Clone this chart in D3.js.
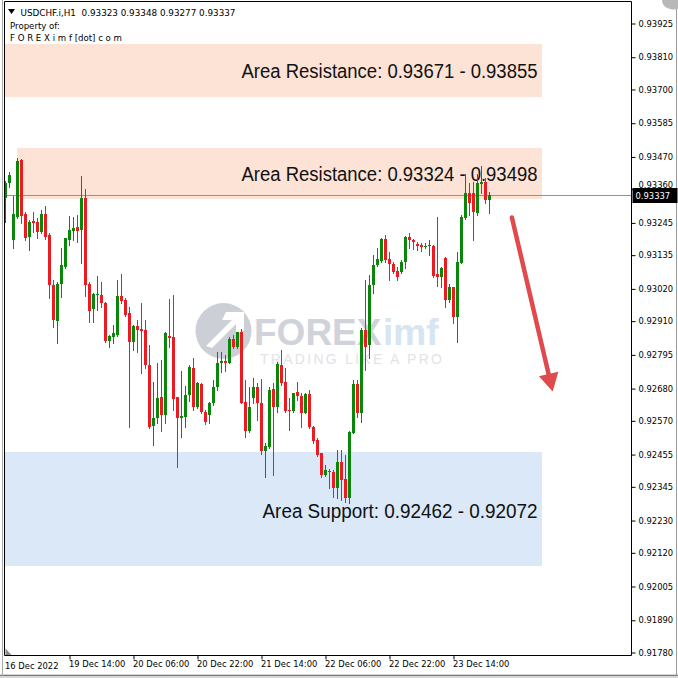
<!DOCTYPE html>
<html><head><meta charset="utf-8">
<script src="https://cdn.jsdelivr.net/npm/d3@7"></script>
<style>html,body{margin:0;padding:0;background:#fff;overflow:hidden}svg{display:block}</style>
</head><body>
<svg id="c" width="678" height="678"></svg>
<script>
// ---- DATA ----
const symbolHeader = "USDCHF.i,H1  0.93323 0.93348 0.93277 0.93337";
const propertyLines = ["Property of:", "F O R E X i m f [dot] c o m"];
const opens = [0.93328,0.93378,0.93185,0.93264,0.93458,0.93274,0.93196,0.93250,0.93247,0.93213,
0.93274,0.93202,0.93032,0.92910,0.93035,0.93094,0.93185,0.93217,0.93228,0.93219,
0.93327,0.93035,0.92949,0.92996,0.92997,0.92969,0.92842,0.92855,0.92861,0.92994,
0.92980,0.92935,0.92838,0.92892,0.92880,0.92878,0.92759,0.92551,0.92577,0.92651,
0.92588,0.92858,0.92855,0.92649,0.92577,0.92582,0.92656,0.92747,0.92614,0.92694,
0.92600,0.92588,0.92628,0.92685,0.92767,0.92772,0.92767,0.92846,0.92821,0.92872,
0.92634,0.92535,0.92645,0.92685,0.92630,0.92466,0.92480,0.92676,0.92617,0.92759,
0.92702,0.92605,0.92603,0.92668,0.92653,0.92596,0.92660,0.92548,0.92503,0.92458,
0.92384,0.92398,0.92395,0.92338,0.92429,0.92369,0.92304,0.92528,0.92694,0.92594,
0.92878,0.92827,0.93032,0.93100,0.93114,0.93187,0.93119,0.93103,0.93080,0.93077,
0.93111,0.93194,0.93185,0.93171,0.93168,0.93163,0.93165,0.93165,0.93069,0.93058,
0.93123,0.92980,0.93024,0.92921,0.93108,0.93260,0.93345,0.93345,0.93277,0.93376,
0.93383,0.93323];
const highs = [0.93386,0.93418,0.93335,0.93464,0.93460,0.93282,0.93253,0.93282,0.93259,0.93287,
0.93301,0.93208,0.93049,0.93043,0.93157,0.93193,0.93267,0.93262,0.93270,0.93403,
0.93358,0.93043,0.93005,0.93062,0.93043,0.92974,0.92861,0.92895,0.93049,0.93069,
0.92986,0.92958,0.92895,0.92912,0.92971,0.92912,0.92827,0.92702,0.92765,0.92776,
0.92872,0.92983,0.92997,0.92651,0.92739,0.92687,0.92759,0.92782,0.92701,0.92696,
0.92605,0.92632,0.92708,0.92804,0.92804,0.92793,0.92855,0.92861,0.92872,0.92880,
0.92708,0.92685,0.92713,0.92696,0.92710,0.92492,0.92685,0.92696,0.92770,0.92810,
0.92747,0.92645,0.92664,0.92702,0.92662,0.92662,0.92673,0.92551,0.92509,0.92460,
0.92418,0.92403,0.92401,0.92469,0.92469,0.92452,0.92535,0.92708,0.92708,0.92884,
0.93049,0.93066,0.93134,0.93157,0.93191,0.93202,0.93145,0.93111,0.93094,0.93117,
0.93199,0.93210,0.93187,0.93179,0.93174,0.93176,0.93185,0.93168,0.93262,0.93094,
0.93126,0.93035,0.93026,0.93145,0.93270,0.93410,0.93379,0.93383,0.93410,0.93437,
0.93396,0.93348];
const lows = [0.93246,0.93367,0.93158,0.93259,0.93242,0.93185,0.93151,0.93213,0.93191,0.93208,
0.93187,0.92986,0.92889,0.92833,0.92992,0.93088,0.93168,0.93185,0.93179,0.93108,
0.92994,0.92906,0.92906,0.92946,0.92958,0.92837,0.92821,0.92833,0.92858,0.92969,
0.92926,0.92546,0.92810,0.92804,0.92732,0.92747,0.92544,0.92486,0.92560,0.92535,
0.92560,0.92821,0.92605,0.92410,0.92512,0.92548,0.92637,0.92605,0.92611,0.92594,
0.92557,0.92562,0.92622,0.92673,0.92736,0.92739,0.92765,0.92816,0.92816,0.92628,
0.92514,0.92531,0.92628,0.92571,0.92455,0.92378,0.92475,0.92384,0.92600,0.92691,
0.92600,0.92537,0.92600,0.92639,0.92548,0.92594,0.92543,0.92492,0.92448,0.92378,
0.92380,0.92338,0.92310,0.92304,0.92298,0.92292,0.92287,0.92526,0.92582,0.92565,
0.92742,0.92782,0.93003,0.93096,0.93111,0.93111,0.93049,0.93071,0.93049,0.93071,
0.93088,0.93157,0.93153,0.93151,0.93149,0.93157,0.93134,0.93060,0.93028,0.93026,
0.92956,0.92975,0.92903,0.92838,0.93107,0.93257,0.93270,0.93185,0.93270,0.93345,
0.93311,0.93277];
const closes = [0.93379,0.93407,0.93274,0.93455,0.93267,0.93191,0.93247,0.93244,0.93213,0.93274,
0.93196,0.93032,0.92912,0.93035,0.93100,0.93191,0.93219,0.93227,0.93217,0.93329,
0.93032,0.92944,0.93001,0.93000,0.92969,0.92842,0.92858,0.92867,0.92994,0.92978,
0.92929,0.92838,0.92892,0.92878,0.92876,0.92759,0.92548,0.92577,0.92645,0.92588,
0.92867,0.92850,0.92642,0.92577,0.92585,0.92656,0.92751,0.92617,0.92698,0.92600,
0.92565,0.92630,0.92685,0.92767,0.92772,0.92767,0.92846,0.92821,0.92870,0.92630,
0.92535,0.92617,0.92683,0.92628,0.92466,0.92482,0.92673,0.92617,0.92762,0.92696,
0.92603,0.92603,0.92662,0.92653,0.92596,0.92660,0.92546,0.92501,0.92452,0.92384,
0.92401,0.92395,0.92338,0.92429,0.92367,0.92304,0.92531,0.92694,0.92594,0.92878,
0.92821,0.93032,0.93100,0.93119,0.93187,0.93117,0.93103,0.93077,0.93058,0.93111,
0.93194,0.93185,0.93179,0.93165,0.93162,0.93166,0.93168,0.93062,0.93058,0.93088,
0.92980,0.93026,0.92921,0.93111,0.93264,0.93345,0.93311,0.93281,0.93379,0.93383,
0.93321,0.93337];
const lastPrice = 0.93337;
const priceTicks = [0.93925,0.93810,0.93700,0.93585,0.93470,0.93360,0.93245,0.93135,0.93020,0.92910,
0.92795,0.92680,0.92570,0.92455,0.92345,0.92230,0.92120,0.92005,0.91890,0.91780];
const firstDateLabel = "16 Dec 2022";
const timeTickBars = [16,32,48,64,80,96,112];
const timeTickLabels = ["19 Dec 14:00","20 Dec 06:00","20 Dec 22:00","21 Dec 14:00","22 Dec 06:00","22 Dec 22:00","23 Dec 14:00"];
const zoneLows   = [0.93671, 0.93324, 0.92072];
const zoneHighs  = [0.93855, 0.93498, 0.92462];
const zoneStarts = [-0.2, 2.8, -0.2];
const zoneEnds   = [134, 134, 134];
const zoneNames  = ["Area Resistance: 0.93671 - 0.93855","Area Resistance: 0.93324 - 0.93498","Area Support: 0.92462 - 0.92072"];
const zoneKinds  = ["res","res","sup"];
const arrowFrom = [126.6, 0.93262];
const arrowTo   = [136.8, 0.92668];

// ---- LAYOUT ----
const svg = d3.select("#c");
const plot = {l:4.5, t:1.5, r:631.5, b:655.5};
const x = d3.scaleLinear().domain([0,155]).range([5.5, 625.5]);
const y = d3.scaleLinear().domain([0.91780, 0.93925]).range([652, 23]);
const FONT = "'DejaVu Sans', Verdana, sans-serif";
const GREEN = "#0a870a", RED = "#ea1c22";

svg.append("rect").attr("width",678).attr("height",678).attr("fill","#fff");
// window frame
svg.append("rect").attr("x",0).attr("y",674).attr("width",678).attr("height",4).attr("fill","#d6d6d6");
svg.append("line").attr("x1",0).attr("x2",678).attr("y1",675.5).attr("y2",675.5).attr("stroke","#7a7a7a");
svg.append("line").attr("x1",676.5).attr("x2",676.5).attr("y1",0).attr("y2",676).attr("stroke","#9a9a9a");
svg.append("line").attr("x1",2.5).attr("x2",2.5).attr("y1",0).attr("y2",676).attr("stroke","#a8a8a8");
svg.append("path").attr("d","M662,0 A12,9 0 0 0 678,9 L678,0 Z").attr("fill","#b8b8b8");

const defs = svg.append("defs");
defs.append("clipPath").attr("id","pc").append("rect")
  .attr("x",plot.l+0.5).attr("y",plot.t+0.5).attr("width",plot.r-plot.l-1).attr("height",plot.b-plot.t-1);
const g = svg.append("g").attr("clip-path","url(#pc)");

// zones
const zones = zoneLows.map((lo,i)=>({lo, hi:zoneHighs[i], s:zoneStarts[i], e:zoneEnds[i], name:zoneNames[i], kind:zoneKinds[i]}));
g.selectAll("rect.zone").data(zones).join("rect").attr("class","zone")
  .attr("x",d=>Math.round(x(d.s)))
  .attr("width",d=>Math.round(x(d.e))-Math.round(x(d.s)))
  .attr("y",d=>Math.round(y(d.hi)))
  .attr("height",d=>Math.round(y(d.lo))-Math.round(y(d.hi)))
  .attr("fill",d=>d.kind==="res"?"#fce3d6":"#dae8f8");

// watermark
const wm = g.append("g");
wm.append("circle").attr("cx",223.5).attr("cy",331).attr("r",28).attr("fill","#cdcfd6");
wm.append("path").attr("d","M206,346 L232,320 L222,320 L226,312 L244,312 L244,330 L236,334 L236,324 L212,348 Z").attr("fill","#fff");
wm.append("text").attr("x",254).attr("y",345).attr("font-family","'Liberation Sans', Arial, sans-serif")
  .attr("font-weight","bold").attr("font-size",37).attr("fill","#d1d3da").text("FOREX");
wm.append("text").attr("x",383).attr("y",345).attr("font-family","'Liberation Sans', Arial, sans-serif")
  .attr("font-weight","bold").attr("font-size",37).attr("fill","#d6e5f0").text("imf");
wm.append("text").attr("x",260).attr("y",364).attr("font-family","'Liberation Sans', Arial, sans-serif")
  .attr("font-size",14).attr("fill","#e2e3e7").attr("textLength",182).attr("lengthAdjust","spacing").text("TRADING LIKE A PRO");

// zone labels
const labelWidths = [296, 296, 275];
g.selectAll("text.zl").data(zones).join("text").attr("class","zl")
  .attr("x",x(d3.max(zoneEnds))-4)
  .attr("y",(d,i)=> i===2 ? y(d.hi)+(y(d.lo)-y(d.hi))*0.52+7 : (y(d.hi)+y(d.lo))/2+7)
  .attr("text-anchor","end").attr("font-family","'Liberation Sans', Arial, sans-serif")
  .attr("font-size",20).attr("fill","#111")
  .attr("textLength",(d,i)=>labelWidths[i]).attr("lengthAdjust","spacingAndGlyphs")
  .text(d=>d.name);

// current price line
g.append("line").attr("x1",plot.l).attr("x2",plot.r).attr("y1",Math.round(y(lastPrice))+0.5).attr("y2",Math.round(y(lastPrice))+0.5)
  .attr("stroke","#8694a6").attr("stroke-width",1);

// candles
const bars = opens.map((o,i)=>({i, o, h:highs[i], l:lows[i], c:closes[i]}));
const cg = g.append("g");
cg.selectAll("line.w").data(bars).join("line").attr("class","w")
  .attr("x1",d=>x(d.i)).attr("x2",d=>x(d.i))
  .attr("y1",d=>Math.round(y(d.h))).attr("y2",d=>Math.round(y(d.l))+1)
  .attr("stroke",d=>d.c>=d.o?GREEN:RED).attr("stroke-width",1);
cg.selectAll("rect.b").data(bars).join("rect").attr("class","b")
  .attr("x",d=>x(d.i)-1.5).attr("width",3)
  .attr("y",d=>Math.round(y(Math.max(d.o,d.c))))
  .attr("height",d=>Math.max(1,Math.round(y(Math.min(d.o,d.c)))-Math.round(y(Math.max(d.o,d.c)))))
  .attr("fill",d=>d.c>=d.o?GREEN:RED);

// arrow
const ax1=x(arrowFrom[0]), ay1=y(arrowFrom[1]), ax2=x(arrowTo[0]), ay2=y(arrowTo[1]);
const len=Math.hypot(ax2-ax1, ay2-ay1), ux=(ax2-ax1)/len, uy=(ay2-ay1)/len;
const hl=18, hw=10;
const bx=ax2-ux*hl, by=ay2-uy*hl;
g.append("line").attr("x1",ax1).attr("y1",ay1).attr("x2",bx+ux*2).attr("y2",by+uy*2)
  .attr("stroke","#e04a4d").attr("stroke-width",4.5).attr("stroke-linecap","round");
g.append("path").attr("d",`M${ax2},${ay2} L${bx-uy*hw},${by+ux*hw} L${bx+uy*hw},${by-ux*hw} Z`).attr("fill","#e04a4d");

// header
svg.append("path").attr("d","M8,9 L15,9 L11.5,14 Z").attr("fill","#000");
svg.append("text").attr("x",20.5).attr("y",16).attr("font-family",FONT).attr("font-size",8.8).attr("fill","#000")
  .attr("xml:space","preserve").style("white-space","pre").text(symbolHeader);
svg.selectAll("text.prop").data(propertyLines).join("text").attr("class","prop")
  .attr("x",10).attr("y",(d,i)=>29+i*12).attr("font-family",FONT).attr("font-size",8.6).attr("fill","#000").text(d=>d);

// plot frame
svg.append("line").attr("x1",plot.l).attr("x2",plot.l).attr("y1",plot.t).attr("y2",plot.b).attr("stroke","#000");
svg.append("line").attr("x1",plot.l).attr("x2",plot.r).attr("y1",plot.t).attr("y2",plot.t).attr("stroke","#000");

// y axis (labels partly hidden by the price box are clipped to the visible part)
const py = Math.round(y(lastPrice));
defs.append("clipPath").attr("id","ax").append("path")
  .attr("d",`M${plot.r},0 H678 V${py-7} H${plot.r} Z M${plot.r},${py+8} H678 V678 H${plot.r} Z`);
const yAxis = d3.axisRight(y).tickValues(priceTicks).tickSize(4).tickPadding(3).tickFormat(d3.format(".5f"));
const yg = svg.append("g").attr("transform",`translate(${plot.r},0.5)`).call(yAxis);
yg.select(".domain").remove();
yg.selectAll("text").attr("font-family",FONT).attr("font-size",8.4).attr("fill","#000");
yg.selectAll("line").attr("stroke","#000");
yg.selectAll(".tick").filter(d=>Math.abs(y(d)-py)<10).select("text")
  .attr("dy","0").attr("y",-2).attr("font-size",8.4).attr("clip-path",null);
svg.append("line").attr("x1",plot.r).attr("x2",plot.r).attr("y1",plot.t).attr("y2",plot.b).attr("stroke","#000");

// price box
svg.append("rect").attr("x",plot.r+1).attr("y",py-7).attr("width",45).attr("height",15).attr("fill","#000");
svg.append("text").attr("x",plot.r+4).attr("y",py+4).attr("font-family",FONT).attr("font-size",8.4).attr("fill","#fff").text(d3.format(".5f")(lastPrice));

// x axis
const xAxis = d3.axisBottom(x).tickValues(timeTickBars).tickSize(4).tickFormat((d,i)=>timeTickLabels[i]);
const xg = svg.append("g").attr("transform",`translate(0,${plot.b})`).call(xAxis);
xg.select(".domain").remove();
xg.selectAll("text").attr("font-family",FONT).attr("font-size",8.4).attr("fill","#000")
  .attr("text-anchor","start").attr("x",-1).attr("dy","0.5em").attr("y",7);
xg.selectAll("line").attr("stroke","#000");
svg.append("line").attr("x1",plot.l).attr("x2",plot.r).attr("y1",plot.b).attr("y2",plot.b).attr("stroke","#000");
svg.append("text").attr("x",5).attr("y",plot.b+13).attr("font-family",FONT).attr("font-size",8.4).attr("fill","#000").text(firstDateLabel);
svg.append("path").attr("d",`M${plot.l+1},${plot.b-7} L${plot.l+1},${plot.b-0.5} L${plot.l+7},${plot.b-0.5} Z`).attr("fill","#8a8a8a");
</script>
</body></html>
